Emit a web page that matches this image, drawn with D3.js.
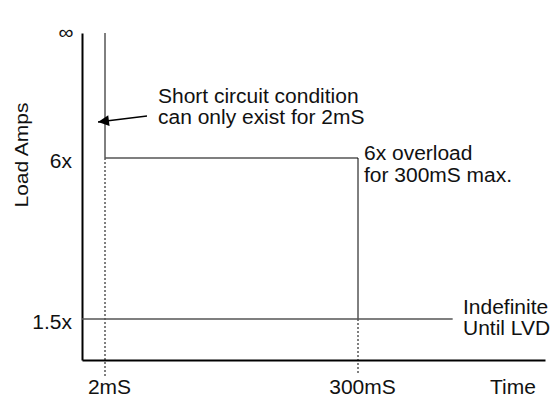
<!DOCTYPE html>
<html>
<head>
<meta charset="utf-8">
<script src="https://cdn.jsdelivr.net/npm/d3@7"></script>
<style>
  body { margin: 0; background: #fff; }
  text { font-family: "Liberation Sans", Arial, sans-serif; font-size: 21px; fill: #111; }
</style>
</head>
<body>
<svg id="chart" width="557" height="398"></svg>
<script>
// Time breakpoints (mS) of the schematic, broken horizontal axis
const timeStops = [0, 2, 300, 460];
const timeTicks = [2, 300];
const timeTickLabels = ["2mS", "300mS"];

// Load levels (multiples of rated current) of the broken vertical axis
const loadStops = [0, 1.5, 6, 8];
const loadTicks = [1.5, 6];
const loadTickLabels = ["1.5x", "6x"];

// Operating envelope
const shortCircuitTime = 2;      // mS
const overloadTime = 300;        // mS
const overloadLevel = 6;         // x rated
const continuousLevel = 1.5;     // x rated
const continuousEnd = 381;       // where the indefinite band is drawn to
const infiniteLevel = 8;         // top of the axis (∞)

const squash = 0.92;             // slightly condensed lettering height

const svg = d3.select("#chart");

// Piecewise scales: each segment of the schematic axes gets its own span
const x = d3.scaleLinear().domain(timeStops).range([82, 105, 358, 545]);
const y = d3.scaleLinear().domain(loadStops).range([360, 319, 158, 33]);

// Axes
const yAxis = d3.axisLeft(y)
  .tickValues(loadTicks)
  .tickFormat((d, i) => loadTickLabels[i])
  .tickSize(0).tickSizeOuter(0);
const gy = svg.append("g").attr("transform", `translate(${x(0)},0)`).call(yAxis);

const xAxis = d3.axisBottom(x)
  .tickValues(timeTicks)
  .tickFormat((d, i) => timeTickLabels[i])
  .tickSize(0).tickSizeOuter(0);
const gx = svg.append("g").attr("transform", `translate(0,${y(0)})`).call(xAxis);

[gx, gy].forEach(g => {
  g.select(".domain").attr("stroke", "#000").attr("stroke-width", 2);
  g.selectAll("text")
    .style("font-family", '"Liberation Sans", Arial, sans-serif')
    .style("font-size", "21px")
    .attr("fill", "#111")
    .attr("x", 0).attr("y", 0).attr("dy", null);
});
gx.selectAll(".tick text").attr("transform", `translate(4,34) scale(1,${squash})`);
gy.selectAll(".tick text").attr("transform", `translate(-10,9) scale(1,${squash})`);

// Text helper: places (multi-line) text at an anchor, slightly condensed vertically
const label = (xPos, yPos, lines, anchor = "start", lineGap = 21) => {
  const t = svg.append("text")
    .attr("transform", `translate(${xPos},${yPos}) scale(1,${squash})`)
    .attr("text-anchor", anchor);
  lines.forEach((s, i) => t.append("tspan").attr("x", 0).attr("dy", i ? lineGap / squash : 0).text(s));
  return t;
};

// ∞ marker at the top of the load axis
label(x(0) - 16, y(infiniteLevel) + 6, ["∞"], "middle");

// Axis titles
svg.append("text")
  .attr("transform", `translate(28,155) rotate(-90) scale(1,0.85)`)
  .attr("text-anchor", "middle")
  .text("Load Amps");
label(490, y(0) + 34, ["Time"]);

// Envelope lines
const seg = (x1, y1, x2, y2, color, w) =>
  svg.append("line").attr("x1", x1).attr("y1", y1).attr("x2", x2).attr("y2", y2)
    .attr("stroke", color).attr("stroke-width", w);

// short circuit limit
seg(x(shortCircuitTime), y(infiniteLevel), x(shortCircuitTime), y(overloadLevel), "#000", 1);
seg(x(shortCircuitTime), y(overloadLevel), x(shortCircuitTime), y(0) + 18, "#000", 1)
  .attr("stroke-dasharray", "2,2");

// 6x overload band
seg(x(shortCircuitTime), y(overloadLevel), x(overloadTime), y(overloadLevel), "#555", 1.3);
seg(x(overloadTime), y(overloadLevel), x(overloadTime), y(continuousLevel), "#000", 1);
seg(x(overloadTime), y(continuousLevel), x(overloadTime), y(0) + 15, "#000", 1)
  .attr("stroke-dasharray", "2,2");

// continuous 1.5x band
seg(x(0), y(continuousLevel), x(continuousEnd), y(continuousLevel), "#555", 1.3);

// Annotations
svg.append("defs").append("marker")
  .attr("id", "arrowhead")
  .attr("viewBox", "0 0 10 10")
  .attr("refX", 10).attr("refY", 5)
  .attr("markerWidth", 14).attr("markerHeight", 11)
  .attr("markerUnits", "userSpaceOnUse")
  .attr("orient", "auto")
  .append("path").attr("d", "M0,0L10,5L0,10Z").attr("fill", "#000");

svg.append("line")
  .attr("x1", 147).attr("y1", 116)
  .attr("x2", x(shortCircuitTime) - 7).attr("y2", 122)
  .attr("stroke", "#000").attr("stroke-width", 1.5)
  .attr("marker-end", "url(#arrowhead)");

label(158, 103, ["Short circuit condition", "can only exist for 2mS"]);
label(x(overloadTime) + 6, 160, ["6x overload", "for 300mS max."], "start", 22);
label(463, 314, ["Indefinite", "Until LVD"]);
</script>
</body>
</html>
